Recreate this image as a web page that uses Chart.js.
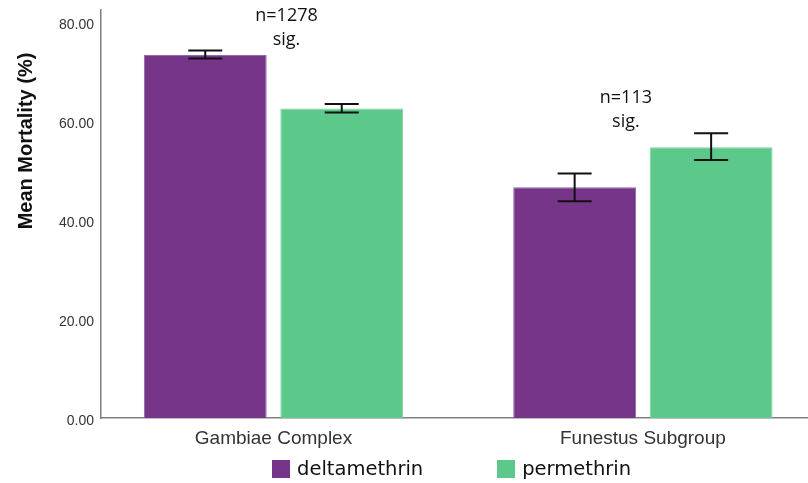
<!DOCTYPE html>
<html>
<head>
<meta charset="utf-8">
<script src="https://cdn.jsdelivr.net/npm/chart.js@4.4.1/dist/chart.umd.min.js"></script>
<style>
  body { margin: 0; background: #fff; }
  #wrap { position: relative; width: 808px; height: 483px; }
  #legend { position: absolute; left: 272px; top: 457px; display: flex;
            font-family: 'DejaVu Sans', sans-serif; font-size: 19.5px; color: #111; }
  .item { display: flex; align-items: center; }
  .item + .item { margin-left: 74px; }
  .box { width: 18px; height: 18px; margin-right: 7px; }
</style>
</head>
<body>
<div id="wrap"><canvas id="chart"></canvas><div id="legend"></div></div>
<script>
const categories = ['Gambiae Complex', 'Funestus Subgroup'];
const seriesNames = ['deltamethrin', 'permethrin'];
const deltaMean = [73.3, 46.6];
const deltaLow = [72.6, 43.8];
const deltaHigh = [74.2, 49.4];
const permMean = [62.5, 54.7];
const permLow = [61.7, 52.1];
const permHigh = [63.4, 57.5];
const yTicks = [0, 20, 40, 60, 80];
const sampleSizes = ['n=1278', 'n=113'];
const sigLabels = ['sig.', 'sig.'];

// error bars (95% CI style caps)
const errorBars = {
    id: 'errorBars',
    afterDatasetsDraw(chart) {
        const ctx = chart.ctx;
        const y = chart.scales.y;
        ctx.save();
        ctx.strokeStyle = '#111';
        ctx.lineWidth = 2;
        chart.data.datasets.forEach((ds, di) => {
            chart.getDatasetMeta(di).data.forEach((bar, i) => {
                const top = y.getPixelForValue(ds.high[i]);
                const bot = y.getPixelForValue(ds.low[i]);
                ctx.beginPath();
                ctx.moveTo(bar.x, top); ctx.lineTo(bar.x, bot);
                ctx.moveTo(bar.x - 17, top); ctx.lineTo(bar.x + 17, top);
                ctx.moveTo(bar.x - 17, bot); ctx.lineTo(bar.x + 17, bot);
                ctx.stroke();
            });
        });
        ctx.restore();
    }
};

// "n=..." and "sig." above each group
const noteDx = [13, -17];
const notes = {
    id: 'notes',
    afterDraw(chart) {
        const ctx = chart.ctx;
        const {x, y} = chart.scales;
        ctx.save();
        ctx.font = '18px "Open Sans"';
        ctx.fillStyle = '#111';
        ctx.textAlign = 'center';
        ctx.textBaseline = 'middle';
        categories.forEach((c, i) => {
            const cx = x.getPixelForValue(i + 1) + noteDx[i];
            const top = Math.min(...chart.data.datasets.map(ds => y.getPixelForValue(ds.high[i])));
            ctx.fillText(sampleSizes[i], cx, top - 35);
            ctx.fillText(sigLabels[i], cx, top - 11);
        });
        ctx.restore();
    }
};

const yTitle = {
    id: 'yTitle',
    afterDraw(chart) {
        const ctx = chart.ctx;
        ctx.save();
        ctx.translate(32, 141);
        ctx.rotate(-Math.PI / 2);
        ctx.font = 'bold 20px "Liberation Sans", Arial';
        ctx.fillStyle = '#111';
        ctx.textAlign = 'center';
        ctx.fillText('Mean Mortality (%)', 0, 0);
        ctx.restore();
    }
};

const canvas = document.getElementById('chart');
const chart = new Chart(canvas, {
    type: 'bar',
    data: {
        labels: categories.map((c, i) => i + 1),
        datasets: [{
            label: seriesNames[0],
            data: deltaMean,
            low: deltaLow,
            high: deltaHigh,
            backgroundColor: '#763589',
            borderColor: '#9468a8',
            borderWidth: 1
        }, {
            label: seriesNames[1],
            data: permMean,
            low: permLow,
            high: permHigh,
            backgroundColor: '#5cc98a',
            borderColor: '#7dd6a2',
            borderWidth: 1
        }]
    },
    options: {
        responsive: true,
        maintainAspectRatio: false,
        animation: false,
        layout: { padding: { top: 10, left: 0, right: 0, bottom: 0 } },
        datasets: { bar: { categoryPercentage: 0.739, barPercentage: 0.9 } },
        plugins: { legend: { display: false }, tooltip: { enabled: false } },
        scales: {
            x: {
                type: 'linear',
                min: 0.533,
                max: 2.447,
                offset: false,
                grid: { display: false, drawTicks: false, offset: false },
                border: { color: '#7f7f7f', width: 1.5 },
                afterBuildTicks: s => { s.ticks = categories.map((c, i) => ({ value: i + 1 })); },
                afterFit: s => { s.height = 65; s.paddingLeft = 0; s.paddingRight = 0; },
                ticks: {
                    padding: 9,
                    autoSkip: false,
                    maxRotation: 0,
                    color: '#333',
                    font: { family: '"Liberation Sans", Arial', size: 19 },
                    callback: v => categories[v - 1]
                }
            },
            y: {
                min: 0,
                max: 82.4,
                grid: { display: false, drawTicks: false },
                border: { color: '#7f7f7f', width: 1.5 },
                afterBuildTicks: s => { s.ticks = yTicks.map(v => ({ value: v })); },
                afterFit: s => { s.width = 101; s.paddingTop = 0; s.paddingBottom = 0; },
                ticks: {
                    padding: 7,
                    labelOffset: 3,
                    color: '#333',
                    font: { family: '"Liberation Sans", Arial', size: 14 },
                    callback: v => v.toFixed(2)
                }
            }
        }
    },
    plugins: [errorBars, notes, yTitle]
});

// legend as html, built from the chart's own legend items
const legendEl = document.getElementById('legend');
Chart.defaults.plugins.legend.labels.generateLabels(chart).forEach(item => {
    const el = document.createElement('div');
    el.className = 'item';
    const box = document.createElement('span');
    box.className = 'box';
    box.style.background = item.fillStyle;
    const txt = document.createElement('span');
    txt.textContent = item.text;
    el.appendChild(box);
    el.appendChild(txt);
    legendEl.appendChild(el);
});
</script>
</body>
</html>
